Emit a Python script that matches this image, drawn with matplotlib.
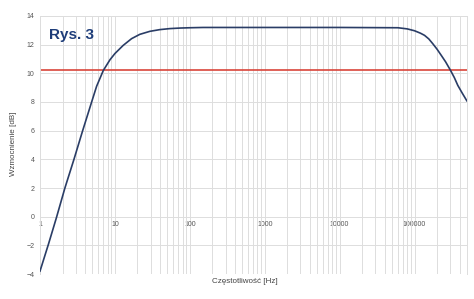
import matplotlib
matplotlib.use('Agg')
import matplotlib.pyplot as plt
from matplotlib.ticker import FixedLocator, LogLocator, NullFormatter

plt.rcParams['font.family'] = ['Liberation Sans', 'DejaVu Sans']

# values (frequency in Hz, gain in dB)
freq = [1.0, 1.3, 1.65, 2.15, 2.84, 3.71, 4.89, 5.7, 7.0, 8.6, 10, 12.9, 16.7,
        21.5, 29.3, 39.8, 54, 75, 100, 150, 1000, 10000, 60000, 80000, 100000,
        120000, 136000, 155000, 175000, 200000, 227000, 260000, 302000,
        340000, 378000, 430000, 489000, 500000]
gain = [-3.8, -1.9, -0.1, 2.0, 4.0, 6.0, 8.0, 9.1, 10.2, 10.95, 11.38, 11.95, 12.42,
        12.72, 12.93, 13.05, 13.12, 13.16, 13.18, 13.2, 13.2, 13.2, 13.18, 13.1, 12.97,
        12.8, 12.65, 12.4, 12.07, 11.68, 11.26, 10.8, 10.21,
        9.7, 9.16, 8.65, 8.16, 8.08]
ref_level = 10.2

x_ticks = [1, 10, 100, 1000, 10000, 100000]
x_labels = ['1', '10', '100', '1000', '10000', '100000']
y_ticks = [-4, -2, 0, 2, 4, 6, 8, 10, 12, 14]

fig = plt.figure(figsize=(4.74, 2.99), dpi=100)
ax = fig.add_axes([0.0844, 0.0836, 0.9006, 0.8629])

grid_c = '#dddddd'
ax.set_xscale('log')
ax.set_xlim(1, 500000)
ax.set_ylim(-4, 14)

ax.xaxis.set_major_locator(FixedLocator(x_ticks))
ax.xaxis.set_minor_locator(LogLocator(base=10, subs=range(2, 10), numticks=20))
ax.xaxis.set_minor_formatter(NullFormatter())
ax.set_xticklabels(x_labels)
ax.set_yticks(y_ticks)

ax.grid(True, which='major', color=grid_c, lw=0.7)
ax.grid(True, which='minor', axis='x', color=grid_c, lw=0.7)
ax.set_axisbelow(True)

for s in ax.spines.values():
    s.set_color(grid_c)
    s.set_linewidth(0.7)
ax.spines['bottom'].set_position(('data', 0))
ax.spines['bottom'].set_visible(False)

ax.tick_params(axis='both', which='both', length=0, labelsize=5, labelcolor='#555555')
ax.tick_params(axis='x', pad=3)
ax.tick_params(axis='y', pad=4)

ax.axhline(ref_level, color='#d9453b', lw=1.2, zorder=2)
ax.plot(freq, gain, color='#2a3d66', lw=1.2, zorder=3)

ax.text(0.022, 0.955, 'Rys. 3', transform=ax.transAxes, fontsize=11, fontweight='bold',
        color='#1d3c79', va='top', ha='left')

fig.text(0.517, 0.06, 'Częstotliwość [Hz]', fontsize=5.8, color='#444444',
         ha='center', va='center')
fig.text(0.028, 0.52, 'Wzmocnienie [dB]', fontsize=5.8, color='#444444',
         ha='center', va='center', rotation=90)

fig.savefig('out.png', dpi=100)
